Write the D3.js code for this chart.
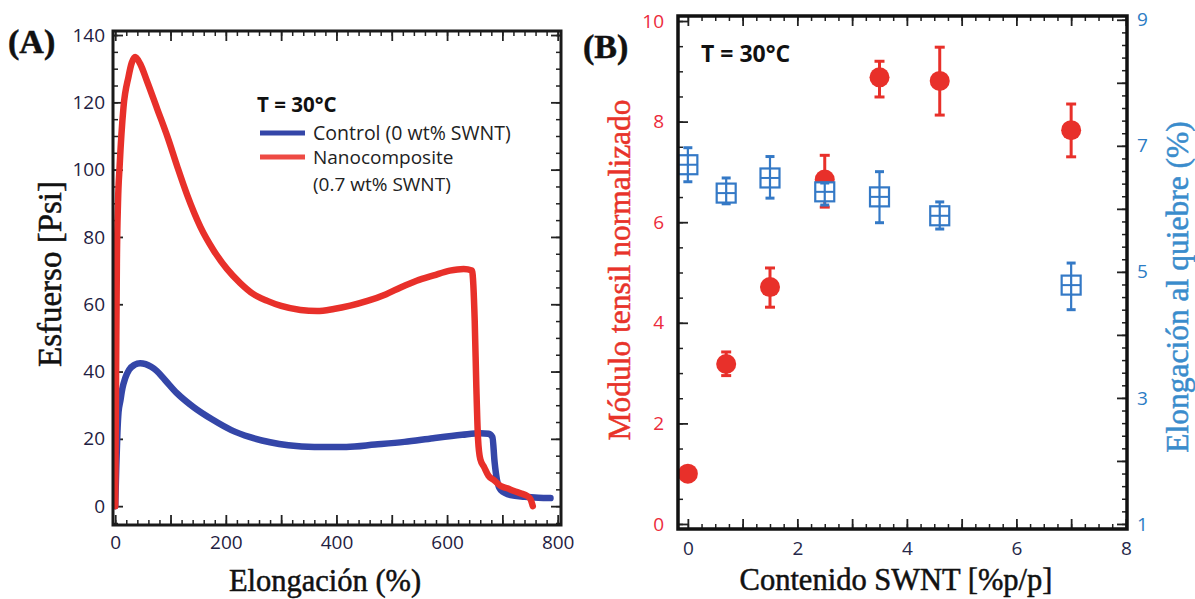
<!DOCTYPE html>
<html>
<head>
<meta charset="utf-8">
<script src="https://cdn.jsdelivr.net/npm/d3@7"></script>
<style>
  html, body { margin: 0; padding: 0; background: #fff; }
  svg { display: block; }
  .tick line { stroke: #222; }
  .domain { display: none; }
</style>
</head>
<body>
<svg id="chart" width="1195" height="599"></svg>
<script>
// ---------- Panel A: stress-strain curves ----------
const strainTicks = [0, 200, 400, 600, 800];
const stressTicks = [0, 20, 40, 60, 80, 100, 120, 140];

const nanoStrain = [0, 1, 2, 3, 5, 8, 15, 24, 30, 36, 45, 57, 76, 95, 112, 130, 154, 178, 202, 226, 250, 275, 300, 335, 365, 395, 425, 456, 490, 516, 545, 576, 605, 630, 645, 650, 653, 656, 660, 667, 675, 685, 697, 709, 721, 733, 745, 751, 755];
const nanoStress = [0, 25, 50, 72, 90, 101, 118.6, 127.6, 131.8, 133.5, 131.5, 126.5, 118, 109.5, 101, 92.5, 83, 76, 70.5, 66.3, 63, 61, 59.5, 58.3, 58, 58.6, 59.6, 61, 63, 65, 67, 68.6, 70, 70.5, 70, 55, 35, 20, 14, 11.6, 9, 7.7, 6, 5.3, 4.5, 3.8, 3, 2, 0];

const controlStrain = [0, 2, 4, 6, 9, 13, 18, 25, 35, 45, 55, 65, 75, 90, 112, 141, 175, 210, 244, 280, 313, 360, 418, 470, 523, 575, 627, 660, 675, 682, 686, 690, 697, 715, 740, 765, 787];
const controlStress = [0, 12, 22, 28, 31, 35, 38, 40.5, 42, 42.5, 42.2, 41.4, 40.2, 37.5, 33.5, 29.5, 25.8, 22.6, 20.5, 19, 18.1, 17.6, 17.6, 18.3, 19.1, 20.2, 21.2, 21.7, 21.5, 20.5, 13, 8, 4.8, 3.3, 2.8, 2.5, 2.4];

// ---------- Panel B: modulus and elongation vs SWNT content ----------
const contentTicks = [0, 2, 4, 6, 8];
const modulusTicks = [0, 2, 4, 6, 8, 10];
const elongTicks = [1, 3, 5, 7, 9];

const swntContent = [0, 0.7, 1.5, 2.5, 3.5, 4.6, 7.0];
const modulus     = [1.0, 3.18, 4.71, 6.85, 8.88, 8.81, 7.83];
const modulusLow  = [1.0, 2.95, 4.31, 6.3, 8.49, 8.13, 7.3];
const modulusHigh = [1.0, 3.42, 5.09, 7.33, 9.2, 9.48, 8.35];

const elongation  = [6.70, 6.25, 6.49, 6.27, 6.19, 5.89, 4.79];
const elongLow    = [6.43, 6.08, 6.17, 6.06, 5.78, 5.68, 4.40];
const elongHigh   = [6.97, 6.49, 6.83, 6.41, 6.59, 6.11, 5.14];

const RED = "#e8302a";
const NAVY = "#3446a8";
const BLUE = "#3479c6";
const SANS = "'Open Sans', 'Liberation Sans', sans-serif";
const SERIF = "'Liberation Serif', 'DejaVu Serif', serif";

const svg = d3.select("#chart");

// inside-pointing minor + major ticks; labels only where fmt gives one
function drawAxis(g, axisFn, scale, majors, minors, majorLen, minorLen, fmt, pad) {
  const m = g.append("g").call(axisFn(scale).tickValues(minors).tickSize(-minorLen).tickFormat(""));
  m.selectAll("line").attr("stroke-width", 1.5);
  m.selectAll("text").remove();
  const a = g.append("g").call(axisFn(scale).tickValues(majors).tickSize(-majorLen)
    .tickPadding(pad).tickFormat(fmt));
  a.selectAll("line").attr("stroke-width", 1.8);
  a.selectAll("text").filter(function () { return this.textContent === ""; }).remove();
  return a;
}

// ===== Panel A =====
const xA = d3.scaleLinear().domain([-4, 806]).range([113, 561]);
const yA = d3.scaleLinear().domain([-5.6, 141.2]).range([525, 31]);

const gA = svg.append("g");
const majA = d3.range(0, 801, 100), minA = d3.range(0, 801, 20);
const majAy = d3.range(0, 141, 20), minAy = d3.range(-5, 141, 5);

const botA = gA.append("g").attr("transform", `translate(0,${yA.range()[0]})`);
const ba = drawAxis(botA, d3.axisBottom, xA, majA, minA, 10, 5,
  d => strainTicks.includes(d) ? d : "", 11);
const topA = gA.append("g").attr("transform", `translate(0,${yA.range()[1]})`);
drawAxis(topA, d3.axisTop, xA, majA, minA, 10, 5, () => "", 0);
const leftA = gA.append("g").attr("transform", `translate(${xA.range()[0]},0)`);
const la = drawAxis(leftA, d3.axisLeft, yA, stressTicks, minAy, 10, 5, d => d, 8);
const rightA = gA.append("g").attr("transform", `translate(${xA.range()[1]},0)`);
drawAxis(rightA, d3.axisRight, yA, majAy, minAy, 10, 5, () => "", 0);

[ba, la].forEach(a => a.selectAll("text")
  .attr("font-family", SANS).attr("font-size", 19).attr("fill", "#1f2142"));

const lineA = d3.line().x(d => xA(d[0])).y(d => yA(d[1])).curve(d3.curveMonotoneX);
gA.append("path").datum(d3.zip(controlStrain, controlStress))
  .attr("d", lineA).attr("fill", "none").attr("stroke", NAVY)
  .attr("stroke-width", 6.5).attr("stroke-linejoin", "round").attr("stroke-linecap", "round");
gA.append("path").datum(d3.zip(nanoStrain, nanoStress))
  .attr("d", lineA).attr("fill", "none").attr("stroke", RED)
  .attr("stroke-width", 6.5).attr("stroke-linejoin", "round").attr("stroke-linecap", "round");

gA.append("rect")
  .attr("x", xA.range()[0]).attr("y", yA.range()[1])
  .attr("width", xA.range()[1] - xA.range()[0]).attr("height", yA.range()[0] - yA.range()[1])
  .attr("fill", "none").attr("stroke", "#1a1a1a").attr("stroke-width", 3);

// legend
const leg = gA.append("g");
leg.append("text").attr("x", 257).attr("y", 112).text("T = 30°C")
  .attr("font-family", SANS).attr("font-weight", "bold").attr("font-size", 20.5).attr("fill", "#111");
leg.append("line").attr("x1", 260).attr("x2", 305).attr("y1", 133).attr("y2", 133)
  .attr("stroke", NAVY).attr("stroke-width", 5);
leg.append("line").attr("x1", 260).attr("x2", 305).attr("y1", 157).attr("y2", 157)
  .attr("stroke", "#ee4a44").attr("stroke-width", 5);
leg.append("text").attr("x", 313).attr("y", 140).text("Control (0 wt% SWNT)")
  .attr("font-family", SANS).attr("font-size", 19.5).attr("fill", "#222");
leg.append("text").attr("x", 313).attr("y", 164).text("Nanocomposite")
  .attr("font-family", SANS).attr("font-size", 19).attr("fill", "#222");
leg.append("text").attr("x", 313).attr("y", 190.5).text("(0.7 wt% SWNT)")
  .attr("font-family", SANS).attr("font-size", 19).attr("fill", "#222");

const titleStyle = (sel, color) => sel.attr("font-family", SERIF).attr("fill", color)
  .attr("stroke", color).attr("stroke-width", 0.5);

titleStyle(svg.append("text").attr("x", 8).attr("y", 53).text("(A)")
  .attr("font-weight", "bold").attr("font-size", 34), "#111");
titleStyle(svg.append("text").attr("transform", "translate(61,274) rotate(-90)").attr("text-anchor", "middle")
  .text("Esfuerso [Psi]").attr("font-size", 33), "#111");
titleStyle(svg.append("text").attr("x", 325).attr("y", 591).attr("text-anchor", "middle")
  .text("Elongación (%)").attr("font-size", 30.5), "#111");

// ===== Panel B =====
const xB = d3.scaleLinear().domain([-0.18, 8.02]).range([678, 1127]);
const yL = d3.scaleLinear().domain([-0.1, 10.1]).range([529, 16]);
const yR = d3.scaleLinear().domain([0.92, 9.06]).range([529, 16]);

const gB = svg.append("g");
const majB = d3.range(0, 8.01, 1), minB = d3.range(0, 8.01, 0.25);
const botB = gB.append("g").attr("transform", `translate(0,${yL.range()[0]})`);
const bb = drawAxis(botB, d3.axisBottom, xB, majB, minB, 10, 5,
  d => contentTicks.includes(d) ? d : "", 13);
const topB = gB.append("g").attr("transform", `translate(0,${yL.range()[1]})`);
drawAxis(topB, d3.axisTop, xB, majB, minB, 10, 5, () => "", 0);
const leftB = gB.append("g").attr("transform", `translate(${xB.range()[0]},0)`);
const lb = drawAxis(leftB, d3.axisLeft, yL, modulusTicks, d3.range(0, 10.01, 0.5), 10, 5, d => d, 14);
const rightB = gB.append("g").attr("transform", `translate(${xB.range()[1]},0)`);
const rb = drawAxis(rightB, d3.axisRight, yR, d3.range(1, 9.01, 1), d3.range(1, 9.01, 0.2), 10, 5,
  d => elongTicks.includes(Math.round(d * 10) / 10) ? Math.round(d) : "", 10);

bb.selectAll("text").attr("font-family", SANS).attr("font-size", 19).attr("fill", "#26284a");
lb.selectAll("text").attr("font-family", SANS).attr("font-size", 19).attr("fill", "#ec2b3c");
rb.selectAll("text").attr("font-family", SANS).attr("font-size", 19).attr("fill", "#2c7cc4");

// modulus: red filled circles with error bars
const pts = swntContent.map((c, i) => ({
  c, m: modulus[i], mLo: modulusLow[i], mHi: modulusHigh[i],
  e: elongation[i], eLo: elongLow[i], eHi: elongHigh[i]
}));
const redG = gB.append("g");
pts.filter(p => p.mHi > p.mLo).forEach(p => {
  redG.append("line").attr("x1", xB(p.c)).attr("x2", xB(p.c))
    .attr("y1", yL(p.mLo)).attr("y2", yL(p.mHi)).attr("stroke", RED).attr("stroke-width", 3);
  [p.mLo, p.mHi].forEach(v => redG.append("line")
    .attr("x1", xB(p.c) - 5).attr("x2", xB(p.c) + 5).attr("y1", yL(v)).attr("y2", yL(v))
    .attr("stroke", RED).attr("stroke-width", 3));
});
redG.selectAll("circle").data(pts).join("circle")
  .attr("cx", d => xB(d.c)).attr("cy", d => yL(d.m)).attr("r", 10).attr("fill", RED);

// elongation: blue open squares with cross and error bars
const blueG = gB.append("g");
const hs = 9.5;
pts.forEach(p => {
  const cx = xB(p.c), cy = yR(p.e);
  blueG.append("rect").attr("x", cx - hs).attr("y", cy - hs).attr("width", 2 * hs).attr("height", 2 * hs)
    .attr("fill", "#fff").attr("stroke", BLUE).attr("stroke-width", 2.2);
  blueG.append("line").attr("x1", cx).attr("x2", cx).attr("y1", yR(p.eLo)).attr("y2", yR(p.eHi))
    .attr("stroke", BLUE).attr("stroke-width", 2.2);
  blueG.append("line").attr("x1", cx - hs).attr("x2", cx + hs).attr("y1", cy).attr("y2", cy)
    .attr("stroke", BLUE).attr("stroke-width", 2);
  [p.eLo, p.eHi].forEach(v => blueG.append("line")
    .attr("x1", cx - 4.5).attr("x2", cx + 4.5).attr("y1", yR(v)).attr("y2", yR(v))
    .attr("stroke", BLUE).attr("stroke-width", 3));
});

gB.append("rect")
  .attr("x", xB.range()[0]).attr("y", yL.range()[1])
  .attr("width", xB.range()[1] - xB.range()[0]).attr("height", yL.range()[0] - yL.range()[1])
  .attr("fill", "none").attr("stroke", "#111").attr("stroke-width", 3.5);

gB.append("text").attr("x", 701).attr("y", 62).text("T = 30°C")
  .attr("font-family", SANS).attr("font-weight", "bold").attr("font-size", 23).attr("fill", "#111");

titleStyle(svg.append("text").attr("x", 583).attr("y", 58).text("(B)")
  .attr("font-weight", "bold").attr("font-size", 34), "#111");
titleStyle(svg.append("text").attr("transform", "translate(630,270) rotate(-90)").attr("text-anchor", "middle")
  .text("Módulo tensil normalizado").attr("font-size", 31.5), "#e8332a");
titleStyle(svg.append("text").attr("transform", "translate(1188,287) rotate(-90)").attr("text-anchor", "middle")
  .text("Elongación al quiebre (%)").attr("font-size", 31.5), "#3a8ccc");
titleStyle(svg.append("text").attr("x", 896).attr("y", 590).attr("text-anchor", "middle")
  .text("Contenido SWNT [%p/p]").attr("font-size", 30.5), "#111");
</script>
</body>
</html>
